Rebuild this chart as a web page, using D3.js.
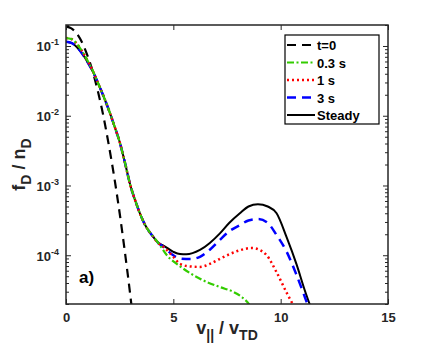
<!DOCTYPE html>
<html>
<head>
<meta charset="utf-8">
<script src="https://cdn.jsdelivr.net/npm/d3@7"></script>
<style>
  body { margin: 0; background: #fff; }
  text { font-family: "Liberation Sans", Arial, sans-serif; font-weight: bold; }
</style>
</head>
<body>
<div id="chart"></div>
<script>
// values: v_par / v_TD and f_D / n_D
var vT0 = [0, 0.25, 0.5, 0.75, 1.0, 1.25, 1.5, 1.75, 2.0, 2.25, 2.5, 2.75, 3.0, 3.1];
var fT0 = [0.19, 0.179, 0.151, 0.112, 0.073, 0.0425, 0.0215, 0.0096, 0.0037, 0.0013, 4.0e-4, 1.07e-4, 2.6e-5, 1.4e-5];

var vBody = [0, 0.25, 0.5, 0.75, 1.0, 1.25, 1.5, 1.75, 2.0, 2.25, 2.5, 2.75, 3.0, 3.25, 3.5, 3.75, 4.0, 4.3];
var fBody = [0.115, 0.111, 0.097, 0.078, 0.059, 0.043, 0.029, 0.019, 0.012, 0.0072, 0.0042, 0.0021, 0.001, 5.8e-4, 3.6e-4, 2.5e-4, 1.95e-4, 1.5e-4];
var fBodyEarly = [0.13, 0.126, 0.108, 0.084, 0.062, 0.044];

var vSteady = [4.5, 5.0, 5.31, 5.6, 6.24, 6.7, 7.17, 7.6, 8.1, 8.5, 8.94, 9.4, 9.81, 10.28, 10.74, 11.13, 11.4];
var fSteady = [1.4e-4, 1.12e-4, 1.04e-4, 1.03e-4, 1.19e-4, 1.5e-4, 2.06e-4, 2.9e-4, 4.0e-4, 5.0e-4, 5.4e-4, 5.0e-4, 4.0e-4, 1.8e-4, 7.4e-5, 3.1e-5, 1.8e-5];

var v3s = [4.5, 5.0, 5.31, 5.8, 6.24, 6.7, 7.17, 7.6, 8.1, 8.5, 8.96, 9.4, 9.81, 10.28, 10.74, 11.13, 11.3];
var f3s = [1.35e-4, 1.0e-4, 9.0e-5, 8.8e-5, 9.5e-5, 1.2e-4, 1.66e-4, 2.2e-4, 2.7e-4, 3.15e-4, 3.3e-4, 2.9e-4, 1.95e-4, 1.12e-4, 5.2e-5, 2.5e-5, 1.8e-5];

var v1s = [4.5, 5.0, 5.31, 5.8, 6.24, 6.7, 7.17, 7.6, 8.1, 8.66, 9.0, 9.35, 9.81, 10.28, 10.6];
var f1s = [1.35e-4, 9.5e-5, 7.5e-5, 6.9e-5, 6.8e-5, 7.5e-5, 8.9e-5, 1.03e-4, 1.18e-4, 1.27e-4, 1.2e-4, 1.0e-4, 5.7e-5, 2.9e-5, 1.9e-5];

var v03s = [4.7, 5.3, 6.24, 7.17, 7.78, 8.2, 8.52, 8.7];
var f03s = [1.0e-4, 7.0e-5, 4.6e-5, 3.5e-5, 3.0e-5, 2.5e-5, 2.0e-5, 1.6e-5];

var labels = ["t=0", "0.3 s", "1 s", "3 s", "Steady"];
var xTicks = [0, 5, 10, 15];
var yTicks = [1e-4, 1e-3, 1e-2, 1e-1];
var yTickExp = ["-4", "-3", "-2", "-1"];

function pts(v, f) { return v.map(function(d, i) { return [d, f[i]]; }); }

// early part of the t>0 curves: 0.3 s and 1 s sit a bit above 3 s / steady near v=0
var early = pts(vBody.slice(0, 6), fBodyEarly).concat(pts(vBody.slice(6), fBody.slice(6)));
var body = pts(vBody, fBody);

var series = [
  { name: labels[0], data: pts(vT0, fT0), color: "#000000", dash: "9,6", w: 2.2 },
  { name: labels[1], data: early.concat(pts(v03s, f03s)), color: "#33cc00", dash: "7,2.5,2,2.5", w: 2.2 },
  { name: labels[2], data: early.concat(pts(v1s, f1s)), color: "#ff0000", dash: "2,3", w: 2.5 },
  { name: labels[3], data: body.concat(pts(v3s, f3s)), color: "#0000ff", dash: "9,6", w: 2.5 },
  { name: labels[4], data: body.concat(pts(vSteady, fSteady)), color: "#000000", dash: null, w: 2 }
];

var W = 429, H = 352;
var L = 66, R = 388, T = 25, B = 304;

var svg = d3.select("#chart").append("svg")
  .attr("width", W).attr("height", H);

var x = d3.scaleLinear().domain([0, 15]).range([L, R]);
var y = d3.scaleLog().domain([2e-5, 0.2]).range([B, T]);

svg.append("clipPath").attr("id", "clip")
  .append("rect").attr("x", L).attr("y", T).attr("width", R - L).attr("height", B - T);

var line = d3.line()
  .x(function(d) { return x(d[0]); })
  .y(function(d) { return y(d[1]); })
  .curve(d3.curveMonotoneX);

// draw steady first so the blue dashes sit over it on the shared part
var order = [4, 0, 3, 2, 1];
order.forEach(function(k) {
  var s = series[k];
  svg.append("path")
    .datum(s.data)
    .attr("clip-path", "url(#clip)")
    .attr("d", line)
    .attr("fill", "none")
    .attr("stroke", s.color)
    .attr("stroke-width", s.w)
    .attr("stroke-dasharray", s.dash);
});

// minor log ticks
var minor = [];
[1e-5, 1e-4, 1e-3, 1e-2, 1e-1].forEach(function(dec) {
  for (var m = 2; m <= 9; m++) {
    var v = m * dec;
    if (v >= 2e-5 && v <= 0.2) minor.push(v);
  }
});

function styleAxis(g) {
  g.select(".domain").remove();
  g.selectAll("line").attr("stroke", "#262626").attr("stroke-width", 1);
}

svg.append("g").attr("transform", "translate(" + L + ",0)")
  .call(d3.axisLeft(y).tickValues(minor).tickSize(-3).tickFormat(""))
  .call(styleAxis);
svg.append("g").attr("transform", "translate(" + R + ",0)")
  .call(d3.axisRight(y).tickValues(minor).tickSize(-3).tickFormat(""))
  .call(styleAxis);
svg.append("g").attr("transform", "translate(" + R + ",0)")
  .call(d3.axisRight(y).tickValues(yTicks).tickSize(-5).tickFormat(""))
  .call(styleAxis);

var yAxis = svg.append("g").attr("transform", "translate(" + L + ",0)")
  .call(d3.axisLeft(y).tickValues(yTicks).tickSize(-5).tickPadding(10).tickFormat(""))
  .call(styleAxis);

yAxis.selectAll(".tick").each(function(d, i) {
  var t = d3.select(this).append("text")
    .attr("x", -7).attr("y", 5)
    .attr("text-anchor", "end")
    .attr("fill", "#262626")
    .style("font-size", "13px");
  t.append("tspan").text("10");
  t.append("tspan").attr("dy", -6).style("font-size", "9px").text(yTickExp[i]);
});

svg.append("g").attr("transform", "translate(0," + B + ")")
  .call(d3.axisBottom(x).tickValues(xTicks).tickSize(-5).tickPadding(9).tickFormat(d3.format("d")))
  .call(styleAxis)
  .selectAll("text").attr("fill", "#262626").style("font-size", "13px")
  .style("font-family", "Liberation Sans, Arial, sans-serif").style("font-weight", "bold");
svg.append("g").attr("transform", "translate(0," + T + ")")
  .call(d3.axisTop(x).tickValues(xTicks).tickSize(-5).tickFormat(""))
  .call(styleAxis);

// frame
svg.append("rect")
  .attr("x", L).attr("y", T).attr("width", R - L).attr("height", B - T)
  .attr("fill", "none").attr("stroke", "#262626").attr("stroke-width", 1.5);

// axis labels
var xl = svg.append("text")
  .attr("x", (L + R) / 2).attr("y", 334)
  .attr("text-anchor", "middle")
  .attr("fill", "#262626")
  .style("font-size", "18px");
xl.append("tspan").text("v");
xl.append("tspan").attr("dy", 6).style("font-size", "14px").text("||");
xl.append("tspan").attr("dy", -6).text("  / v");
xl.append("tspan").attr("dy", 6).style("font-size", "14px").text("TD");

var yl = svg.append("text")
  .attr("transform", "translate(25," + ((T + B) / 2) + ") rotate(-90)")
  .attr("text-anchor", "middle")
  .attr("fill", "#262626")
  .style("font-size", "18px");
yl.append("tspan").text("f");
yl.append("tspan").attr("dy", 6).style("font-size", "14px").text("D");
yl.append("tspan").attr("dy", -6).text(" / n");
yl.append("tspan").attr("dy", 6).style("font-size", "14px").text("D");

svg.append("text")
  .attr("x", 79).attr("y", 283)
  .attr("fill", "#000")
  .style("font-size", "17px")
  .text("a)");

// legend
var lg = svg.append("g");
lg.append("rect")
  .attr("x", 285).attr("y", 35).attr("width", 94).attr("height", 89)
  .attr("fill", "#fff").attr("stroke", "#000").attr("stroke-width", 1.2);

series.forEach(function(s, i) {
  var yy = 45 + i * 17.5;
  lg.append("line")
    .attr("x1", 287).attr("x2", 315).attr("y1", yy).attr("y2", yy)
    .attr("stroke", s.color).attr("stroke-width", s.w)
    .attr("stroke-dasharray", s.dash);
  lg.append("text")
    .attr("x", 317).attr("y", yy + 5)
    .attr("fill", "#000")
    .style("font-size", "13px")
    .text(s.name);
});
</script>
</body>
</html>
